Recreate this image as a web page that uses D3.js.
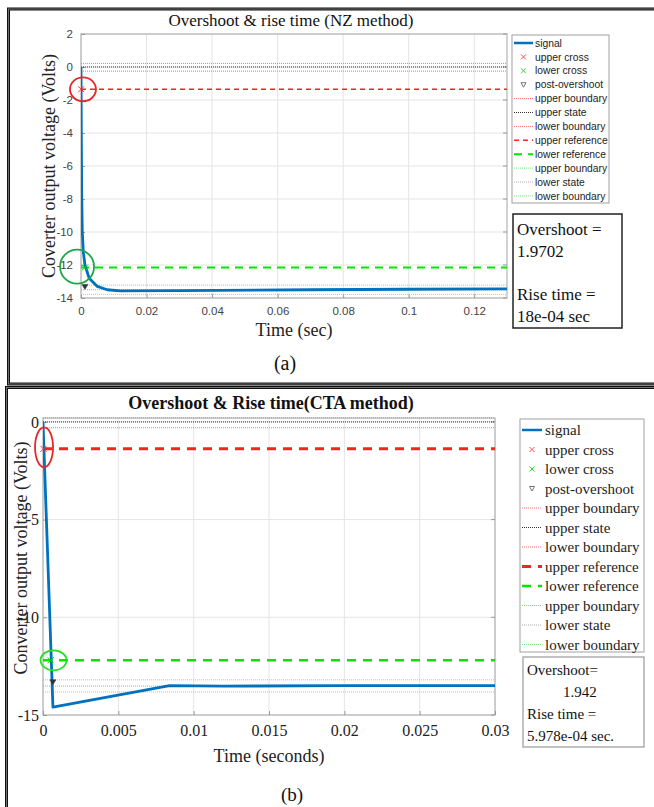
<!DOCTYPE html>
<html>
<head>
<meta charset="utf-8">
<script src="https://cdn.jsdelivr.net/npm/d3@7"></script>
<style>
  body { margin: 0; background: #fff; }
  svg { display: block; }
</style>
</head>
<body>
<div id="chart"></div>
<script>
// ---- data ----
// (a) NZ method
var topTime = [0, 0.0001, 0.0002, 0.0004, 0.0007, 0.0012, 0.0025, 0.005, 0.008, 0.012, 0.03, 0.07, 0.1, 0.13];
var topVolt = [0, -4, -7.5, -10, -11.2, -12, -12.8, -13.3, -13.5, -13.57, -13.55, -13.5, -13.47, -13.45];
var topXTicks = [0, 0.02, 0.04, 0.06, 0.08, 0.1, 0.12];
var topXLabels = ["0", "0.02", "0.04", "0.06", "0.08", "0.1", "0.12"];
var topYTicks = [2, 0, -2, -4, -6, -8, -10, -12, -14];
var topYLabels = ["2", "0", "-2", "-4", "-6", "-8", "-10", "-12", "-14"];
// upper boundary, upper state, lower boundary, upper ref, lower ref, upper boundary, lower state, lower boundary
var topLevels = [0.22, 0, -0.25, -1.35, -12.15, -13.22, -13.5, -13.78];
var topMarks = [[0.00005, -1.35], [0.0012, -12.15], [0.0012, -13.3]];
var topInfo = ["Overshoot =", "1.9702", "", "Rise time =", "18e-04 sec"];

// (b) CTA method
var botTime = [0, 0.00066, 0.0084, 0.012, 0.02, 0.03];
var botVolt = [0, -14.6, -13.5, -13.52, -13.5, -13.5];
var botXTicks = [0, 0.005, 0.01, 0.015, 0.02, 0.025, 0.03];
var botXLabels = ["0", "0.005", "0.01", "0.015", "0.02", "0.025", "0.03"];
var botYTicks = [0, -5, -10, -15];
var botYLabels = ["0", "-5", "-10", "-15"];
var botLevels = [0.2, 0, -0.3, -1.38, -12.2, -13.2, -13.52, -13.82];
var botMarks = [[0.00003, -1.38], [0.0005, -12.2], [0.00066, -13.3]];
var botInfo = ["Overshoot=", "1.942", "Rise time =", "5.978e-04 sec."];

var legendNames = ["signal", "upper cross", "lower cross", "post-overshoot", "upper boundary", "upper state",
    "lower boundary", "upper reference", "lower reference", "upper boundary", "lower state", "lower boundary"];

var W = 654, H = 807;
var svg = d3.select("#chart").append("svg").attr("width", W).attr("height", H);

// panel frames (double line look)
function frame(x, y, w, h) {
    svg.append("rect").attr("x", x).attr("y", y).attr("width", w).attr("height", h)
        .attr("fill", "none").attr("stroke", "#111").attr("stroke-width", 3);
    svg.append("rect").attr("x", x).attr("y", y).attr("width", w).attr("height", h)
        .attr("fill", "none").attr("stroke", "#888").attr("stroke-width", 0.8);
}
frame(8.5, 9, 660, 375);
frame(6.5, 387.5, 660, 440);

// line styles for the 8 level lines, in legend order
function levelStyles(big) {
    return [
        {c: "#ff7070", w: 1, d: "1,1"},
        {c: "#333", w: 1, d: "1,1"},
        {c: "#ff7070", w: 1, d: "1,1"},
        {c: "#ff2020", w: big ? 3 : 1.5, d: big ? "9,7" : "5,4"},
        {c: "#00e600", w: big ? 2.5 : 2, d: big ? "9,7" : "8,6"},
        {c: "#7fe77f", w: 1, d: "1,1"},
        {c: "#aaa", w: 1, d: "1,1"},
        {c: "#7fe77f", w: 1, d: "1,1"}
    ];
}

function drawPanel(p) {
    var x = d3.scaleLinear().domain(p.xDomain).range([p.left, p.right]);
    var y = d3.scaleLinear().domain(p.yDomain).range([p.bottom, p.top]);
    var g = svg.append("g");
    var clipId = "clip" + p.id;
    svg.append("clipPath").attr("id", clipId).append("rect")
        .attr("x", p.left).attr("y", p.top - 1).attr("width", p.right - p.left).attr("height", p.bottom - p.top + 2);

    // grid
    g.selectAll(".gx").data(p.xTicks).enter().append("line")
        .attr("x1", function(d){ return x(d); }).attr("x2", function(d){ return x(d); })
        .attr("y1", p.top).attr("y2", p.bottom).attr("stroke", "#e4e4e4").attr("stroke-width", 1);
    g.selectAll(".gy").data(p.yTicks).enter().append("line")
        .attr("y1", function(d){ return y(d); }).attr("y2", function(d){ return y(d); })
        .attr("x1", p.left).attr("x2", p.right).attr("stroke", "#e4e4e4").attr("stroke-width", 1);

    // axes box
    g.append("rect").attr("x", p.left).attr("y", p.top).attr("width", p.right - p.left).attr("height", p.bottom - p.top)
        .attr("fill", "none").attr("stroke", "#b5b5b5").attr("stroke-width", 1.2);

    var xa = g.append("g").attr("transform", "translate(0," + p.bottom + ")")
        .call(d3.axisBottom(x).tickValues(p.xTicks).tickFormat(function(d, i){ return p.xLabels[i]; })
            .tickSizeInner(-4).tickSizeOuter(0).tickPadding(p.xPad));
    var ya = g.append("g").attr("transform", "translate(" + p.left + ",0)")
        .call(d3.axisLeft(y).tickValues(p.yTicks).tickFormat(function(d, i){ return p.yLabels[i]; })
            .tickSizeInner(-4).tickSizeOuter(0).tickPadding(p.yPad));
    [xa, ya].forEach(function(a) {
        a.select(".domain").remove();
        a.selectAll("line").attr("stroke", "#999");
        a.selectAll("text").attr("font-family", p.tickFont).attr("font-size", p.tickSize).attr("fill", p.tickColor);
    });
    // right side ticks
    g.selectAll(".ry").data(p.yTicks).enter().append("line")
        .attr("x1", p.right - 4).attr("x2", p.right)
        .attr("y1", function(d){ return y(d); }).attr("y2", function(d){ return y(d); })
        .attr("stroke", "#999");

    var plot = g.append("g").attr("clip-path", "url(#" + clipId + ")");
    var st = levelStyles(p.big);
    p.levels.forEach(function(v, i) {
        plot.append("line").attr("x1", p.left).attr("x2", p.right)
            .attr("y1", y(v)).attr("y2", y(v))
            .attr("stroke", st[i].c).attr("stroke-width", st[i].w).attr("stroke-dasharray", st[i].d);
    });

    var line = d3.line().x(function(d){ return x(d[0]); }).y(function(d){ return y(d[1]); });
    plot.append("path").datum(d3.zip(p.time, p.volt)).attr("d", line)
        .attr("fill", "none").attr("stroke", "#0072bd").attr("stroke-width", 2.8).attr("stroke-linejoin", "round");

    // markers
    var m = p.marks;
    [[m[0], "#ff3030"], [m[1], "#00dd00"]].forEach(function(e) {
        var cx = x(e[0][0]), cy = y(e[0][1]);
        g.append("path").attr("d", "M" + (cx-3) + "," + (cy-3) + "L" + (cx+3) + "," + (cy+3) + "M" + (cx-3) + "," + (cy+3) + "L" + (cx+3) + "," + (cy-3))
            .attr("stroke", e[1]).attr("stroke-width", 1);
    });
    var tx = x(m[2][0]), ty = y(m[2][1]);
    g.append("path").attr("d", "M" + (tx-3) + "," + (ty-2) + "L" + (tx+3) + "," + (ty-2) + "L" + tx + "," + (ty+3) + "Z")
        .attr("fill", "#333").attr("stroke", "#333").attr("stroke-width", 0.5);

    // highlight circles
    p.rings.forEach(function(r) {
        g.append("ellipse").attr("cx", x(r.t)).attr("cy", y(r.v)).attr("rx", r.rx).attr("ry", r.ry)
            .attr("fill", "none").attr("stroke", r.c).attr("stroke-width", 1.8);
    });

    // titles
    svg.append("text").attr("x", p.titleX).attr("y", p.titleY).attr("text-anchor", "middle")
        .attr("font-family", "Liberation Serif, Times New Roman, serif").attr("font-size", p.titleSize)
        .attr("font-weight", p.big ? "bold" : "normal").attr("fill", "#111").text(p.title);
    svg.append("text").attr("x", p.xLabelX).attr("y", p.xLabelY).attr("text-anchor", "middle")
        .attr("font-family", "Liberation Serif, Times New Roman, serif").attr("font-size", p.labelSize)
        .attr("fill", "#222").text(p.xLabel);
    svg.append("text").attr("transform", "translate(" + p.yLabelX + "," + p.yLabelY + ") rotate(-90)")
        .attr("text-anchor", "middle")
        .attr("font-family", "Liberation Serif, Times New Roman, serif").attr("font-size", p.labelSize)
        .attr("fill", "#222").text(p.yLabel);
    svg.append("text").attr("x", p.tagX).attr("y", p.tagY).attr("text-anchor", "middle")
        .attr("font-family", "Liberation Serif, Times New Roman, serif").attr("font-size", p.tagSize)
        .attr("fill", "#111").text(p.tag);

    // legend
    var L = p.legend;
    svg.append("rect").attr("x", L.x).attr("y", L.y).attr("width", L.w).attr("height", L.h)
        .attr("fill", "#fff").attr("stroke", "#a0a0a0").attr("stroke-width", 1);
    legendNames.forEach(function(name, i) {
        var ly = L.y + L.first + i * L.step;
        var x0 = L.x + 2, x1 = L.x + L.sample;
        if (i === 0) {
            svg.append("line").attr("x1", x0).attr("x2", x1).attr("y1", ly).attr("y2", ly)
                .attr("stroke", "#0072bd").attr("stroke-width", 2.5);
        } else if (i === 1 || i === 2) {
            var cx = (x0 + x1) / 2, c = i === 1 ? "#ff5050" : "#30dd30";
            svg.append("path").attr("d", "M" + (cx-2.5) + "," + (ly-2.5) + "L" + (cx+2.5) + "," + (ly+2.5) + "M" + (cx-2.5) + "," + (ly+2.5) + "L" + (cx+2.5) + "," + (ly-2.5))
                .attr("stroke", c).attr("stroke-width", 1);
        } else if (i === 3) {
            var cx2 = (x0 + x1) / 2;
            svg.append("path").attr("d", "M" + (cx2-2.5) + "," + (ly-2) + "L" + (cx2+2.5) + "," + (ly-2) + "L" + cx2 + "," + (ly+2.5) + "Z")
                .attr("fill", "none").attr("stroke", "#555").attr("stroke-width", 0.8);
        } else {
            var s = st[i - 4];
            svg.append("line").attr("x1", x0).attr("x2", x1).attr("y1", ly).attr("y2", ly)
                .attr("stroke", s.c).attr("stroke-width", s.w).attr("stroke-dasharray", s.d);
        }
        svg.append("text").attr("x", L.x + L.textX).attr("y", ly).attr("dy", "0.35em")
            .attr("font-family", L.font).attr("font-size", L.size).attr("fill", "#222").text(name);
    });

    // info box
    var B = p.box;
    svg.append("rect").attr("x", B.x).attr("y", B.y).attr("width", B.w).attr("height", B.h)
        .attr("fill", "#fff").attr("stroke", B.stroke).attr("stroke-width", B.sw);
    p.info.forEach(function(t, i) {
        svg.append("text").attr("x", B.x + (B.indent[i] || 4)).attr("y", B.y + B.first + i * B.step)
            .attr("font-family", "Liberation Serif, Times New Roman, serif").attr("font-size", B.size)
            .attr("fill", "#111").text(t);
    });
}

drawPanel({
    id: "a", big: false,
    time: topTime, volt: topVolt, levels: topLevels, marks: topMarks,
    xDomain: [0, 0.13], yDomain: [-14, 2],
    left: 81, right: 507, top: 34, bottom: 298,
    xTicks: topXTicks, xLabels: topXLabels, yTicks: topYTicks, yLabels: topYLabels,
    xPad: 9, yPad: 8,
    tickFont: "Liberation Sans, Arial, sans-serif", tickSize: 11.5, tickColor: "#444",
    rings: [{t: 0.0006, v: -1.35, rx: 13, ry: 12, c: "#e8262a"}, {t: -0.0012, v: -12.1, rx: 17, ry: 17, c: "#1fa64a"}],
    title: "Overshoot & rise time (NZ method)", titleX: 291, titleY: 26, titleSize: 17,
    xLabel: "Time (sec)", xLabelX: 294, xLabelY: 336,
    yLabel: "Coverter output voltage (Volts)", yLabelX: 55, yLabelY: 166, labelSize: 18,
    tag: "(a)", tagX: 285, tagY: 370, tagSize: 20,
    legend: {x: 512, y: 35, w: 97, h: 168, first: 8, step: 13.9, sample: 21, textX: 23,
             font: "Liberation Sans, Arial, sans-serif", size: 10.3},
    box: {x: 513, y: 214, w: 109, h: 114, first: 21, step: 21.7, size: 17, indent: [], stroke: "#222", sw: 1.5},
    info: topInfo
});

drawPanel({
    id: "b", big: true,
    time: botTime, volt: botVolt, levels: botLevels, marks: botMarks,
    xDomain: [0, 0.03], yDomain: [-15, 0.2],
    left: 43, right: 495, top: 418, bottom: 715,
    xTicks: botXTicks, xLabels: botXLabels, yTicks: botYTicks, yLabels: botYLabels,
    xPad: 10, yPad: 4,
    tickFont: "Liberation Serif, Times New Roman, serif", tickSize: 16, tickColor: "#222",
    rings: [{t: 0.00007, v: -1.3, rx: 9, ry: 20, c: "#e8262a"}, {t: 0.0007, v: -12.2, rx: 13, ry: 10, c: "#22e022"}],
    title: "Overshoot & Rise time(CTA method)", titleX: 271, titleY: 409, titleSize: 18,
    xLabel: "Time (seconds)", xLabelX: 269, xLabelY: 762,
    yLabel: "Converter output voltage (Volts)", yLabelX: 27, yLabelY: 558, labelSize: 18,
    tag: "(b)", tagX: 292, tagY: 801, tagSize: 19,
    legend: {x: 520, y: 419, w: 124, h: 233, first: 11, step: 19.5, sample: 22, textX: 25,
             font: "Liberation Serif, Times New Roman, serif", size: 15},
    box: {x: 523, y: 657, w: 121, h: 90, first: 18, step: 22, size: 15, indent: [4, 40, 4, 4], stroke: "#999", sw: 1.2},
    info: botInfo
});
</script>
</body>
</html>
